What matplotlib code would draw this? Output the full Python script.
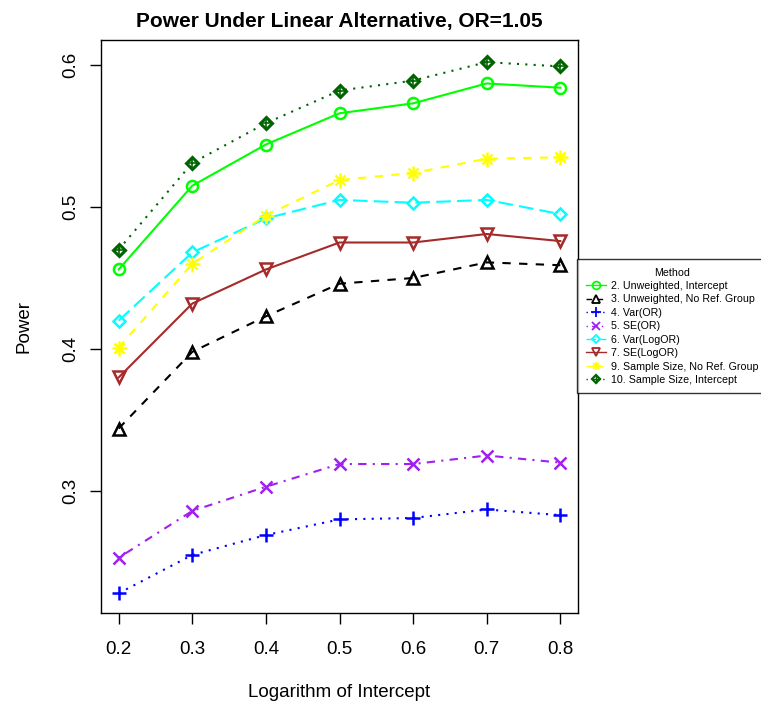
import matplotlib
matplotlib.use("Agg")
import matplotlib.pyplot as plt
from matplotlib.lines import Line2D
from matplotlib.legend_handler import HandlerTuple

plt.rcParams['font.family'] = ['Liberation Sans', 'DejaVu Sans']

x = [0.2, 0.3, 0.4, 0.5, 0.6, 0.7, 0.8]
labels = ["2. Unweighted, Intercept", "3. Unweighted, No Ref. Group", "4. Var(OR)",
          "5. SE(OR)", "6. Var(LogOR)", "7. SE(LogOR)",
          "9. Sample Size, No Ref. Group", "10. Sample Size, Intercept"]
s2 = [0.456, 0.515, 0.544, 0.566, 0.573, 0.587, 0.584]
s3 = [0.344, 0.398, 0.423, 0.446, 0.450, 0.461, 0.459]
s4 = [0.228, 0.255, 0.269, 0.280, 0.281, 0.287, 0.283]
s5 = [0.253, 0.286, 0.303, 0.319, 0.319, 0.325, 0.320]
s6 = [0.420, 0.468, 0.492, 0.505, 0.503, 0.505, 0.495]
s7 = [0.380, 0.432, 0.456, 0.475, 0.475, 0.481, 0.476]
s9 = [0.401, 0.460, 0.494, 0.519, 0.524, 0.534, 0.535]
s10 = [0.470, 0.531, 0.559, 0.582, 0.589, 0.602, 0.599]
series = [s2, s3, s4, s5, s6, s7, s9, s10]

colors = ["#00FF00", "#000000", "#0000FF", "#A020F0", "#00FFFF", "#A52A2A", "#FFFF00", "#006400"]
dashes = [None, (4, 4), (1, 3), (1, 3, 4, 3), (7, 3), None, (4, 4), (1, 3)]
markers = ["o", "^", "+", "x", "D", "v", "*", "D"]
msizes = [8, 8.5, 10, 8, 6.5, 8.5, 9, 6.5]

fig = plt.figure(figsize=(7.61, 7.06), dpi=100)
ax = fig.add_axes([101/761, 1-613/706, (578-101)/761, (613-40)/706])

handles = []
for i, (y, c, d, m, ms) in enumerate(zip(series, colors, dashes, markers, msizes)):
    ls = '-' if d is None else (0, d)
    ax.plot(x, y, color=c, linestyle=ls, linewidth=1.5, zorder=2)
    if i == 6:
        ax.plot(x, y, linestyle='none', marker='+', markersize=ms*1.2, color=c,
                markeredgewidth=1.8, zorder=3)
        ax.plot(x, y, linestyle='none', marker='x', markersize=ms*0.85, color=c,
                markeredgewidth=1.8, zorder=3)
        handles.append((Line2D([0], [0], color=c, linestyle=ls, linewidth=1.0,
                               marker='+', markersize=ms*0.7, markeredgewidth=1.2),
                        Line2D([0], [0], color=c, linestyle='none',
                               marker='x', markersize=ms*0.5, markeredgewidth=1.2)))
        continue
    elif i == 7:
        ax.plot(x, y, linestyle='none', marker='D', markersize=ms, markerfacecolor='none',
                markeredgecolor=c, markeredgewidth=2.2, zorder=3)
        ax.plot(x, y, linestyle='none', marker='+', markersize=ms*1.3, color=c,
                markeredgewidth=1.2, zorder=3)
        handles.append((Line2D([0], [0], color=c, linestyle=ls, linewidth=1.0,
                               marker='D', markersize=ms*0.7, markerfacecolor='none',
                               markeredgecolor=c, markeredgewidth=1.6),
                        Line2D([0], [0], color=c, linestyle='none',
                               marker='+', markersize=ms*0.9, markeredgewidth=1.0)))
        continue
    else:
        ax.plot(x, y, linestyle='none', marker=m, markersize=ms, markerfacecolor='none',
                markeredgecolor=c, markeredgewidth=1.8, zorder=3)
    handles.append(Line2D([0], [0], color=c, linestyle=ls, linewidth=1.0,
                          marker=m, markersize=ms*0.7, markerfacecolor='none',
                          markeredgecolor=c, markeredgewidth=1.3))

ax.set_xlim(0.176, 0.824)
ax.set_ylim(0.2141, 0.6176)
ax.set_xticks(x)
ax.set_xticklabels([f"{v:.1f}" for v in x])
ax.set_yticks([0.3, 0.4, 0.5, 0.6])
ax.set_yticklabels(["0.3", "0.4", "0.5", "0.6"], rotation=90, va='center')
ax.tick_params(axis='both', direction='out', length=8, width=1, labelsize=13.5)
ax.tick_params(axis='x', pad=12)
ax.tick_params(axis='y', pad=8)
for sp in ax.spines.values():
    sp.set_linewidth(1.0)

ax.set_title("Power Under Linear Alternative, OR=1.05", fontsize=15, fontweight='bold', pad=9.5)
ax.set_xlabel("Logarithm of Intercept", fontsize=13.5, labelpad=19)
ax.set_ylabel("Power", fontsize=13.5, labelpad=21)

leg = fig.legend(handles=handles, labels=labels, title="Method", loc='upper left',
                 bbox_to_anchor=(577/761, 1-259/706), fontsize=7.7, title_fontsize=7.7,
                 frameon=True, fancybox=False, borderpad=0.8, labelspacing=0.32,
                 handlelength=1.9, handletextpad=0.5, borderaxespad=0,
                 handler_map={tuple: HandlerTuple(ndivide=1)})
leg.get_frame().set_edgecolor('black')
leg.get_frame().set_linewidth(1.0)

fig.savefig("out.png", dpi=100)
